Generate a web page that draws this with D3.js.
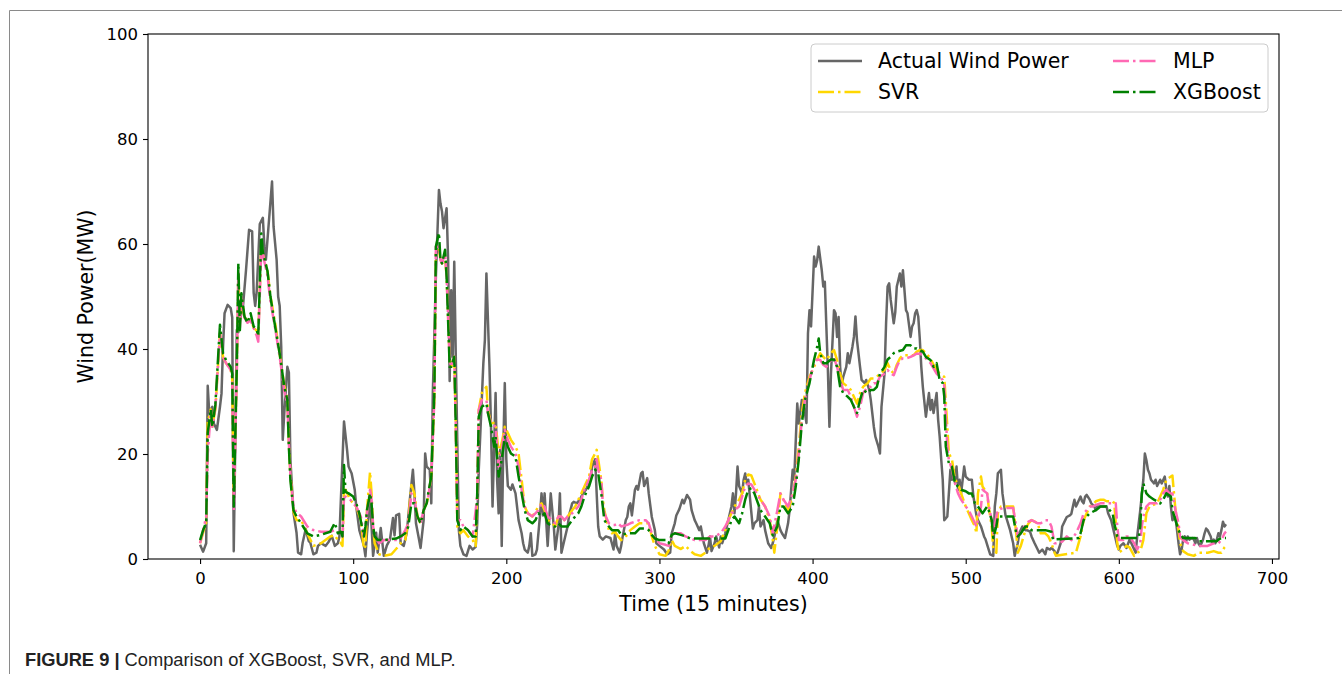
<!DOCTYPE html>
<html><head><meta charset="utf-8">
<script src="https://cdn.jsdelivr.net/npm/d3@7"></script>
<style>body{margin:0;background:#fff} svg{display:block}</style>
</head><body>
<svg id="chart" width="1342" height="674"></svg>
<script>
const xTicks = [0,100,200,300,400,500,600,700];
const yTicks = [0,20,40,60,80,100];
const seriesNames = ["Actual Wind Power","SVR","MLP","XGBoost"];
const xLabel = "Time (15 minutes)";
const yLabel = "Wind Power(MW)";

// [time index, MW]
const actual = [[0,2.7],[2,1.4],[4,3],[5,33],[6,27.8],[8,29],[9,25.8],[11,24.6],[13,29],[14,31.5],[15,40.5],[16,46.8],[18,48.4],[20,47.8],[21,46],[22,1.5],[24,43.6],[25,43.2],[26,45.5],[28,48],[30,55],[32,62.7],[34,62.4],[35,50.7],[36,48.2],[37,51],[39,63.8],[41,65],[42,59.5],[43,57],[47,71.9],[48,63.3],[50,57],[51,50],[52,48.2],[53,40.4],[54,22.7],[55,27.8],[57,36.6],[58,35.5],[59,18.9],[61,8.8],[63,5],[64,1.2],[66,0.9],[67,3.1],[69,5.7],[71,3.4],[72,3.1],[74,0.9],[76,1.2],[77,2.5],[79,3],[82,2.5],[84,3.3],[86,4.4],[88,2.5],[90,3],[91,4.3],[94,26.2],[96,20.8],[97,17.6],[99,16.3],[101,13.2],[102,10],[104,5.5],[107,2.5],[108,0.5],[109,4.9],[111,11.3],[112,6.2],[113,0.6],[115,5],[116,1.2],[118,5.9],[120,0.6],[122,2.6],[124,3.7],[126,7.8],[127,4.5],[128,8.3],[130,8.6],[131,3],[133,2.5],[135,5],[137,11.3],[139,17],[140,12.5],[141,6.8],[143,3.7],[144,2.1],[146,7.4],[147,20.1],[148,17.6],[150,17],[151,10.6],[152,31.6],[154,53.8],[156,70.3],[157,67.7],[158,66.2],[159,63],[161,66.8],[162,56.9],[163,33.9],[164,51.2],[165,38.5],[166,56.6],[167,38.5],[169,5.5],[170,2.5],[172,0.9],[174,0.6],[176,2.5],[178,1.8],[180,2.3],[181,6.8],[182,17],[185,37.3],[186,41.7],[187,54.4],[188,45.5],[189,36.6],[190,25.2],[191,10],[193,31.6],[194,15],[195,8.7],[196,20.8],[197,2.5],[198,20.8],[199,33.5],[200,19],[201,13.9],[203,13.2],[204,14.2],[206,12.5],[207,10],[208,7.4],[210,4.9],[211,3],[212,1.8],[214,1.2],[215,2.5],[216,4.9],[217,0.6],[219,0.9],[220,1.8],[222,8.3],[223,12.5],[224,8.3],[225,12.5],[226,7.4],[227,2.5],[229,12.5],[231,6.2],[232,1.8],[234,6.2],[235,12.5],[236,1.2],[238,3.7],[240,6.2],[241,8.3],[243,10.6],[244,10.9],[246,10.6],[248,11.3],[250,12.5],[252,13.2],[255,15.1],[256,17.6],[258,19],[259,12.5],[260,6.2],[261,4.3],[263,3.7],[265,4.3],[268,4],[270,1.8],[271,4.9],[272,2.5],[274,1.2],[275,2.5],[276,4.3],[278,7.4],[279,8],[280,10],[281,10.6],[282,8.3],[284,13.2],[285,13.9],[286,13.2],[288,16.3],[289,16.6],[290,13.9],[292,15.4],[293,12.5],[295,8],[297,5.5],[298,3],[300,2.5],[303,1.8],[305,0.9],[307,1.2],[308,4.9],[310,6.8],[311,8.3],[313,9.5],[315,11.3],[316,10.6],[318,12.2],[320,11.3],[321,9.3],[323,7.4],[324,6.8],[326,5.5],[327,6.2],[329,3],[331,1.2],[332,2.5],[333,4.3],[334,1.5],[336,3],[337,4.3],[339,2.2],[340,4.3],[341,3],[343,4.9],[344,6.2],[345,7.4],[347,10],[348,12.5],[349,8.7],[350,12.5],[351,17.6],[352,13.9],[354,12.5],[355,15.1],[356,16.3],[357,14.4],[358,15.1],[359,12],[361,5.8],[362,6.8],[364,7.4],[365,10],[366,6.2],[368,7.4],[369,5.5],[371,3],[373,2.1],[374,3],[376,5.5],[377,7.4],[379,5.5],[380,4.9],[382,4],[384,6.8],[385,9.3],[387,17],[388,15.1],[390,29.6],[391,25.8],[393,30.3],[394,29.6],[396,25.9],[397,43],[398,47.4],[399,44.3],[401,57.6],[402,55.7],[403,56.9],[404,59.5],[406,55],[407,51.9],[408,52.8],[409,44.3],[410,36],[411,25.2],[412,35.3],[414,47.4],[415,46.8],[416,42.3],[417,46.1],[418,36.6],[419,32.8],[420,34.7],[422,36.6],[423,39.2],[424,37.3],[426,40.4],[427,42.3],[428,46.2],[429,41.7],[431,36.6],[432,34.1],[434,33.5],[435,34.1],[437,32.2],[438,30.3],[440,25.2],[441,23.3],[443,21.4],[444,20.1],[445,29],[447,35.3],[448,44.9],[449,51.9],[450,52.5],[451,49.4],[453,44.9],[454,47],[455,51.9],[456,53.1],[457,54.4],[458,51.9],[459,55],[460,51.2],[461,47.4],[462,46.8],[464,42.3],[465,44.3],[466,44.9],[467,46.8],[468,47.4],[469,46.2],[470,42],[471,36.6],[472,32.8],[474,27.1],[476,31.6],[477,28.4],[478,30.3],[479,27.8],[481,31.6],[482,26.5],[483,23.3],[484,19],[485,15.1],[486,7.4],[488,8.1],[489,12.5],[490,17],[491,15.1],[492,17],[493,14.6],[494,17.6],[495,13.2],[496,15.1],[497,12.5],[499,17.6],[500,15.7],[502,15.1],[504,15.1],[505,12],[507,8.3],[508,7.4],[510,6.2],[512,4.3],[513,3.7],[515,1.8],[516,0.9],[518,0.6],[519,10],[520,12.5],[521,16.3],[523,17],[524,12.5],[526,8.3],[527,7.4],[529,5.5],[531,3],[532,0.6],[534,3],[535,4.9],[537,6.2],[539,5.5],[540,5.5],[542,5.2],[543,4.3],[545,3],[547,1.8],[548,1.2],[550,1.8],[552,0.9],[553,2.1],[555,1.8],[556,2.1],[558,1.5],[559,0.9],[560,1.2],[562,3],[563,6.2],[565,7.4],[566,8],[568,8.3],[569,8.6],[570,10],[571,11.3],[572,10],[573,10.6],[575,11.9],[576,11],[577,10.6],[578,11.9],[579,12.2],[581,11.3],[582,10.6],[584,10],[585,9.3],[586,10],[588,10],[590,10],[592,10],[593,8.7],[595,7.4],[597,4.9],[599,2.5],[600,1.8],[601,2.5],[603,3],[605,2.1],[607,3.7],[609,2.5],[611,1.2],[612,4.3],[614,9.3],[616,15.1],[617,20.1],[618,18.8],[619,17],[620,16.3],[621,15.1],[623,14.4],[624,15.1],[625,13.9],[627,15.1],[628,14.4],[630,15.7],[631,13.2],[632,11.9],[633,13.9],[634,10],[635,7.4],[637,8],[638,5.5],[639,3],[640,0.9],[641,1.8],[642,3.7],[643,4.3],[644,3.4],[645,4.3],[646,3.7],[648,4],[649,3.7],[650,3],[651,4],[652,3],[653,2.5],[654,3],[655,3.7],[656,4.9],[657,5.8],[658,5.5],[660,4.3],[661,3],[662,3.7],[663,3],[664,3.7],[665,4.9],[666,4.3],[667,5.5],[668,7.1],[669,6.2],[670,6.6]];

const svr = [[0,3],[2,5],[4,7],[5,26],[7,28.5],[8,25.2],[10,28.5],[13,43],[15,38.5],[17,37.3],[20,36],[21,34.5],[22,12],[24,36],[25,54],[26,45],[27,50],[29,46],[31,45.5],[33,46],[35,44],[37,43.5],[38,42.5],[40,60],[41,58],[44,55],[46,50],[49,45],[52,39],[55,33],[57,30.5],[58,22],[59,16],[61,9],[63,7.4],[66,7.4],[70,4.9],[74,2.5],[79,3],[85,4.3],[88,4.5],[90,3.6],[92,3],[93,2.5],[94,12.5],[95,13.2],[98,11.3],[100,10.6],[102,10],[105,7.4],[107,1.9],[108,2.5],[109,9.3],[111,16.6],[112,12.5],[113,6.2],[114,3],[117,0.9],[120,0.6],[125,0.9],[128,1.9],[131,3],[134,3.6],[136,7.4],[138,14.1],[140,12.5],[142,8.1],[144,6.8],[146,9.3],[148,10.6],[149,11.9],[151,15.7],[153,30.3],[154,58.2],[156,58.9],[157,57],[158,56.3],[160,57.6],[161,53.8],[163,38],[164,36.6],[166,38.5],[167,25.2],[168,6.2],[170,4.9],[172,5.5],[175,4.3],[178,3.6],[180,2.5],[181,12.5],[182,28.4],[184,31.6],[187,32.8],[188,28.4],[190,25.9],[193,25.9],[195,20.1],[197,22.1],[199,25.2],[201,24],[203,22.7],[206,21.4],[208,20.1],[210,15.1],[212,10],[214,8.7],[217,8.1],[219,9],[221,10],[223,10.6],[225,9.3],[227,7.4],[230,6.8],[232,6.2],[234,8.1],[236,8.1],[238,7.4],[240,8.1],[243,9.3],[245,10],[247,11.3],[249,12.5],[251,13.8],[254,15.7],[256,19],[258,20.1],[259,20.8],[260,19],[262,15.1],[263,11.3],[264,9.3],[267,5.5],[269,4.9],[271,5.2],[273,4.3],[275,3.6],[279,4.6],[281,5.5],[284,6.2],[287,6.8],[293,6.8],[295,4.3],[297,2.5],[300,0.9],[304,0.6],[306,1.6],[308,3.6],[310,2.5],[314,1.9],[317,2.5],[320,1.6],[323,0.9],[327,0.6],[330,1.2],[333,2.2],[336,2.5],[340,3.4],[343,5.5],[345,7.4],[347,8.7],[349,10],[352,11.3],[354,12.5],[356,15.1],[358,16.1],[360,15.9],[362,14.4],[366,11.3],[369,10],[372,7.4],[374,3.6],[375,1.2],[377,6.2],[379,12.5],[381,11.3],[384,9.3],[387,11.9],[389,15.7],[391,21.4],[393,27.8],[395,31.6],[398,34.7],[401,36.6],[403,38],[405,39.2],[407,38.5],[409,37.9],[412,39.2],[414,39.8],[416,37.9],[418,35.3],[420,33.5],[423,32.8],[425,32.2],[427,30.9],[429,29.6],[431,31.6],[433,32.8],[436,33.5],[438,34.4],[440,34.4],[442,34.7],[444,35.3],[447,36],[449,37.3],[451,36],[453,35.3],[455,37],[457,38.2],[459,38.8],[466,38.8],[468,39.5],[470,39.8],[472,39.8],[474,39.2],[477,38.2],[479,37],[481,36],[483,35.3],[486,34.7],[488,25.2],[489,20.1],[491,19],[493,15.1],[495,14.4],[497,12.5],[500,10],[502,8.7],[504,7.4],[506,6.2],[507,4.9],[508,12.5],[510,15.7],[511,13.8],[514,12.5],[515,10],[517,6.2],[518,1.9],[520,1.2],[521,8.7],[523,10],[531,10],[533,4.9],[534,1.2],[536,2.5],[539,5.5],[541,6.8],[543,7.4],[545,7.1],[547,6.8],[549,4.9],[552,4.9],[554,4.3],[556,3],[558,1.2],[559,0.6],[572,1.2],[575,4.3],[577,7.4],[579,8.7],[581,10],[583,10.3],[585,11],[588,11.3],[590,11.3],[592,11],[596,11],[597,10.6],[599,3],[600,1.2],[603,1.9],[605,2.5],[607,2.2],[610,0.6],[612,1.2],[614,1.5],[615,2.5],[616,3.6],[618,8.7],[620,10],[625,10.6],[627,11.9],[629,13.2],[631,15.1],[634,15.7],[635,15.9],[637,9.3],[639,5.5],[640,3],[642,1.5],[645,0.9],[649,0.6],[652,1.2],[658,1.2],[662,1.5],[665,1.2],[667,1.2],[669,2.2],[670,2.5]];

const mlp = [[0,3],[2,5.5],[4,8],[5,20],[7,28],[8,25.2],[10,29],[13,43],[15,38.5],[17,37.3],[20,36],[21,34.5],[22,9.3],[24,36],[25,55],[26,44],[27,50],[29,46],[31,45],[33,45.5],[35,44],[37,42.5],[38,41.4],[40,59],[41,58],[44,54],[46,49],[49,44],[52,38.5],[55,32],[57,29.5],[58,22],[59,16],[61,10],[63,8.8],[66,8.1],[70,6.2],[74,5.5],[79,5.2],[85,5.2],[88,5.5],[92,4.9],[93,4.3],[94,11.6],[95,11.9],[98,11.3],[100,10.6],[102,10],[105,8.1],[107,4.3],[109,8.7],[111,13.2],[112,11.3],[113,6.2],[114,4.3],[117,3],[120,3.6],[128,3.6],[131,3.9],[134,5.5],[136,6.8],[138,12.5],[140,11.3],[142,8.1],[144,6.8],[146,9.3],[148,10.6],[149,11.9],[151,15.7],[153,30.3],[154,59.5],[156,59.5],[157,57],[158,56.3],[160,58.2],[161,53.8],[163,38],[164,36.6],[166,38.5],[167,25.2],[168,7.4],[170,7.4],[172,6.2],[175,5.5],[178,4.3],[180,9.3],[181,12],[182,28.4],[184,30.3],[187,30.3],[188,27.8],[190,25.9],[193,25.2],[195,17.6],[197,20.8],[199,24.6],[201,22.7],[203,21.4],[206,20.1],[208,17.6],[210,13.2],[212,10],[214,8.7],[217,8.1],[219,8.7],[221,9.3],[223,10.6],[225,10],[227,8.1],[230,7.4],[232,6.8],[234,8.1],[236,8.1],[238,7.4],[240,8.1],[243,8.7],[245,9.3],[247,10],[249,11.3],[251,13.2],[254,15.1],[256,17],[258,17.6],[259,19],[260,17],[262,15.1],[263,10.6],[264,8.7],[267,6.8],[269,6.5],[271,6.5],[273,6.8],[275,6.2],[279,6.5],[281,6.8],[284,7.1],[287,7.4],[291,7.4],[293,6.8],[295,4.9],[297,4],[300,3],[304,2.7],[306,2.5],[308,4.6],[310,4.9],[314,4.9],[317,4.3],[320,4],[323,3.6],[330,3.6],[333,4.3],[336,4.3],[340,4.9],[343,6.2],[345,7.4],[347,8.7],[349,9.3],[352,10],[354,11.9],[356,13.8],[358,14.4],[360,14.2],[362,13.2],[366,11.3],[369,10],[372,8.1],[374,4.9],[377,9.3],[379,12.5],[381,11.3],[384,10],[387,12.5],[389,15.1],[391,20.1],[393,26.5],[395,30.3],[398,34.1],[401,37.3],[403,38],[405,37.9],[407,37],[409,36.6],[412,37.9],[414,38.3],[416,36.6],[418,34.1],[420,32.2],[423,32.2],[425,30.9],[427,29],[429,27.1],[431,29],[433,31.6],[436,32.8],[438,32.8],[440,33.5],[442,33.5],[444,34.7],[447,35.3],[449,36],[451,35.3],[453,35],[455,36.6],[457,37.9],[459,38.2],[461,38.2],[464,38.5],[466,38.8],[468,39.1],[470,39.1],[472,38.8],[474,38.2],[477,37.3],[479,36.3],[481,35.3],[483,34.7],[485,34.1],[486,33],[488,21.4],[489,18.9],[491,17],[493,14.4],[495,12.5],[497,11.3],[500,10],[502,9.3],[504,8.1],[506,6.8],[507,6.2],[510,10],[511,13.2],[514,12.5],[515,10.3],[517,7.4],[518,4.9],[520,8.1],[521,9.3],[524,9.7],[531,9.7],[533,6.2],[534,4.3],[536,4.9],[539,6.5],[541,7.1],[543,7.4],[545,7.1],[547,6.8],[549,6.8],[552,7.4],[554,7.4],[556,6.2],[558,3],[559,3],[563,3.3],[566,4.3],[569,3.6],[572,4.9],[575,6.8],[577,8.7],[579,9.3],[581,10],[583,10],[585,10.3],[588,10.6],[598,10.6],[599,6.2],[600,3.6],[603,3.6],[605,4.3],[607,4.3],[610,3],[612,1.8],[614,3],[615,6.2],[616,8.1],[618,10],[620,10.6],[625,10.6],[627,11.3],[629,12.5],[631,13.2],[633,12.5],[635,12.5],[637,9.3],[639,6.8],[640,4.3],[642,3.6],[645,3],[649,2.7],[652,2.5],[658,2.5],[662,3],[665,3],[667,3.6],[669,4.9],[670,5.2]];

const xgb = [[0,3.6],[2,5.5],[4,7],[5,24],[7,28.5],[8,25.2],[10,29.4],[13,44.6],[15,39.1],[17,37.9],[20,36.6],[21,35.3],[22,10],[24,36.6],[25,56.3],[26,43.6],[27,50.6],[29,46.2],[31,45],[33,46.8],[35,44.3],[37,43.6],[38,42.5],[40,62],[41,58.4],[44,54.9],[46,49.9],[49,44.3],[52,39.1],[55,32.8],[57,30.3],[58,21.4],[59,15],[61,9.3],[63,8.1],[66,6.8],[70,4.9],[74,4.3],[79,4.6],[85,5.2],[88,6.9],[90,4.9],[92,5.2],[93,4.3],[94,17.9],[95,12.8],[97,12.5],[100,11.9],[102,10.6],[104,8.7],[107,4.3],[108,6.2],[109,9.3],[111,12.5],[112,10.6],[113,6.2],[114,4.3],[116,3.6],[120,3.6],[128,3.9],[131,4.3],[134,4.9],[136,6.2],[138,10.6],[140,10.6],[142,8.1],[144,6.8],[146,9.3],[148,10.6],[149,12.5],[151,15.7],[153,31.6],[154,59.5],[156,62.1],[157,57],[158,56.3],[160,58.9],[161,53.8],[163,36.6],[164,36.6],[166,38.5],[167,25.2],[168,7.4],[170,5.5],[172,6.2],[175,5.5],[178,4.3],[180,4.3],[181,12.5],[182,27.1],[184,29],[187,29.6],[188,27.8],[190,25.2],[192,21.4],[193,23.3],[195,15.7],[197,19],[199,23.3],[201,21.4],[203,20.1],[206,19.5],[208,15.7],[210,12.5],[212,9.3],[214,7.4],[217,6.8],[219,7.4],[221,8.7],[223,8.1],[225,8.7],[227,6.8],[230,6.2],[232,6.2],[234,6.8],[236,6.2],[238,6.2],[240,6.2],[243,7.4],[245,8.1],[247,8.7],[249,10],[251,11.9],[254,13.8],[256,15.7],[258,17],[260,16.3],[262,12.5],[263,10],[264,7.4],[267,6.2],[269,5.5],[271,5.5],[273,5.5],[275,4.6],[279,4.9],[284,4.9],[287,5.8],[291,5.8],[293,5.5],[295,4.6],[297,3.9],[300,3.6],[304,3.6],[306,3],[308,4.6],[310,4.9],[314,4.6],[317,4.3],[320,3.9],[343,3.9],[345,5.5],[347,7.4],[349,8.1],[352,6.8],[354,8.7],[356,11.3],[358,13.2],[360,13.5],[362,12.5],[366,9.3],[369,8.1],[372,6.8],[374,4.5],[377,6.2],[379,10],[381,10],[384,8.7],[387,10],[389,13.8],[391,19],[393,25.9],[395,30.3],[398,33.5],[401,38],[403,40.4],[404,42],[405,39.2],[407,37.3],[409,37.3],[412,38],[414,38],[416,36.6],[418,32.8],[420,31.6],[423,30.9],[425,30.3],[427,29],[429,27.8],[431,30.3],[433,32.2],[436,31.6],[438,32.2],[440,32.2],[442,32.8],[444,35.3],[447,36.6],[449,38],[451,38.5],[453,39.2],[455,39.5],[459,39.8],[461,40.7],[464,40.7],[466,40.1],[468,40.1],[470,39.8],[472,39.5],[474,38.5],[477,37.9],[479,36.6],[481,37.3],[483,34.1],[485,33.5],[486,31],[487,21.4],[489,18.2],[491,17.6],[493,14.4],[495,13.8],[497,13.2],[500,12.9],[502,12.5],[504,12.5],[506,10.6],[508,10],[511,8.7],[514,10],[515,9.3],[517,7.4],[518,4],[520,6.2],[521,8.1],[531,8.1],[533,4.9],[534,4.3],[536,4.9],[539,6.2],[541,6.2],[543,5.5],[552,5.5],[556,5.2],[557,3.7],[574,4],[575,4.9],[577,7.4],[579,8.1],[581,8.7],[583,9],[585,9.3],[588,10],[592,10],[594,9.3],[596,8.7],[597,6.8],[599,4.3],[600,4],[613,4],[614,6.2],[615,12.5],[616,14.4],[618,12.5],[620,11.9],[623,11.3],[625,11],[627,10.6],[629,11.3],[631,12.5],[634,11.9],[635,9.3],[637,7.4],[639,5.5],[640,4.9],[642,4],[650,4],[652,3.4],[664,3.4],[665,3.7],[667,4],[670,4]];

const seriesData = [actual, svr, mlp, xgb];
const colors = ["#666666", "#FFD700", "#FF69B4", "#008000"];

const W = 1342, H = 674;
const M = {left:148, right:1279, top:34, bottom:559};
const svg = d3.select("#chart");
const font = "'DejaVu Sans', sans-serif";

// page frame lines
svg.append("line").attr("x1",9.5).attr("x2",W).attr("y1",10.5).attr("y2",10.5).attr("stroke","#8a8a8a").attr("stroke-width",1);
svg.append("line").attr("x1",9.5).attr("x2",9.5).attr("y1",10.5).attr("y2",H).attr("stroke","#8a8a8a").attr("stroke-width",1);

const x = d3.scaleLinear().domain([-34, 704.6]).range([M.left, M.right]);
const y = d3.scaleLinear().domain([0, 100]).range([M.bottom, M.top]);

svg.append("clipPath").attr("id","clip").append("rect")
  .attr("x",M.left).attr("y",M.top).attr("width",M.right-M.left).attr("height",M.bottom-M.top);

const line = d3.line().x(d => x(d[0])).y(d => y(d[1]));
const dash = "16,4,2.5,4";
const g = svg.append("g").attr("clip-path","url(#clip)");
seriesData.forEach((s,i) => {
  g.append("path").datum(s).attr("d", line)
    .attr("fill","none").attr("stroke", colors[i]).attr("stroke-width", 2.5)
    .attr("stroke-linejoin","round")
    .attr("stroke-dasharray", i === 0 ? null : dash);
});

// axes
const xAxis = d3.axisBottom(x).tickValues(xTicks).tickSize(5).tickPadding(4);
const yAxis = d3.axisLeft(y).tickValues(yTicks).tickSize(5).tickPadding(5);
const gx = svg.append("g").attr("transform",`translate(0,${M.bottom})`).call(xAxis);
const gy = svg.append("g").attr("transform",`translate(${M.left},0)`).call(yAxis);
[gx, gy].forEach(a => {
  a.select(".domain").remove();
  a.selectAll(".tick line").attr("stroke","#000").attr("stroke-width",1.1);
  a.selectAll(".tick text").attr("fill","#000").style("font-family",font).style("font-size","16.5px");
});
gx.selectAll(".tick text").attr("dy","0.95em");
// spines
svg.append("rect").attr("x",M.left).attr("y",M.top).attr("width",M.right-M.left).attr("height",M.bottom-M.top)
  .attr("fill","none").attr("stroke","#000").attr("stroke-width",1.1);

// axis labels
svg.append("text").attr("x",(M.left+M.right)/2).attr("y",611).attr("text-anchor","middle")
  .style("font-family",font).style("font-size","20.5px").attr("fill","#000").text(xLabel);
svg.append("text").attr("transform",`translate(93,${(M.top+M.bottom)/2}) rotate(-90)`).attr("text-anchor","middle")
  .style("font-family",font).style("font-size","20.5px").attr("fill","#000").text(yLabel);

// legend
const lg = svg.append("g");
lg.append("rect").attr("x",811).attr("y",44).attr("width",457).attr("height",68).attr("rx",4)
  .attr("fill","#fff").attr("fill-opacity",0.8).attr("stroke","#cccccc").attr("stroke-width",1);
const legPos = [[818,61],[818,92],[1113,61],[1113,92]];
seriesNames.forEach((n,i) => {
  const [lx,ly] = legPos[i];
  lg.append("line").attr("x1",lx).attr("x2",lx+44).attr("y1",ly).attr("y2",ly)
    .attr("stroke",colors[i]).attr("stroke-width",2.5)
    .attr("stroke-dasharray", i === 0 ? null : dash);
  lg.append("text").attr("x",lx+60).attr("y",ly).attr("dy","0.35em")
    .style("font-family",font).style("font-size","20.5px").attr("fill","#000").text(n);
});

// caption
const cap = svg.append("text").attr("x",25).attr("y",666)
  .style("font-family","'Liberation Sans', Arial, sans-serif").style("font-size","18.3px").attr("fill","#222");
cap.append("tspan").attr("font-weight","bold").text("FIGURE 9 | ");
cap.append("tspan").text("Comparison of XGBoost, SVR, and MLP.");
</script>
</body></html>
